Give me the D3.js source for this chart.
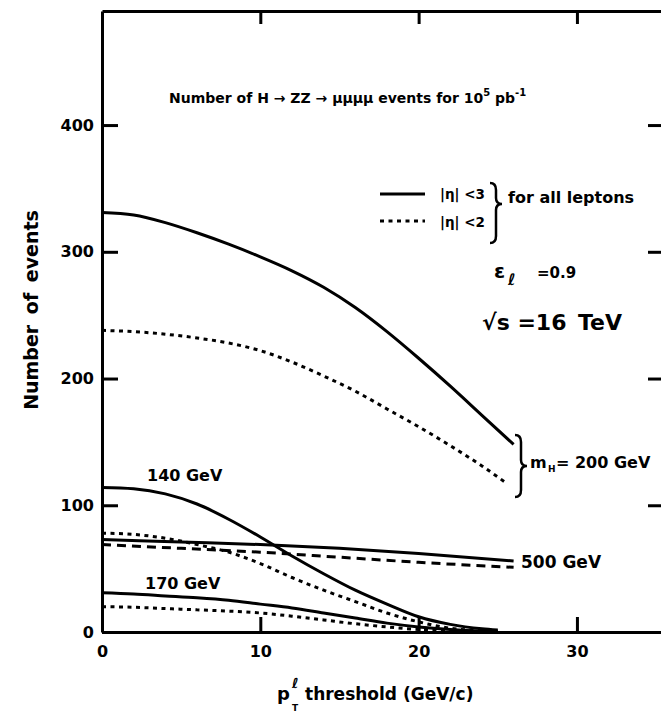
<!DOCTYPE html>
<html>
<head>
<meta charset="utf-8">
<title>H -> ZZ -> 4mu events vs pT threshold</title>
<style type="text/css">
	body{ margin:0; background:#fff; }
	svg text{ font-family:"DejaVu Sans", "Liberation Sans", sans-serif; font-weight:bold; fill:#000; }
	.axis path, .axis line{ stroke:#000; stroke-width:3; }
</style>
</head>
<body>
<div id="board"></div>
<script src="https://cdn.jsdelivr.net/npm/d3@7"></script>
<script>
// values (x = pT threshold GeV/c, y = number of events)
var xTicks = [0, 10, 20, 30];
var yTicks = [0, 100, 200, 300, 400];

var x200 = [0, 2, 4, 6, 8, 10, 12, 14, 16, 18, 20, 22, 24, 26];
var h200eta3 = [331, 329, 323, 315, 306, 296, 285, 272, 256, 237, 216, 194, 171, 148];
var x200b = [0, 2, 4, 6, 8, 10, 12, 14, 16, 18, 20, 22, 24, 25.6];
var h200eta2 = [238, 237, 235, 232, 228, 222, 213, 202, 190, 176, 162, 147, 131, 117];

var xLow = [0, 2, 4, 6, 8, 10, 12, 14, 16, 18, 20, 22, 24, 25];
var h140eta3 = [114, 113, 109, 101, 89, 75, 60, 46, 33, 22, 12, 6, 2.5, 1.5];
var h140eta2 = [78, 77, 74, 69, 63, 54, 43, 33, 24, 15, 8, 3, 1, 0.5];
var h170eta3 = [31, 30, 28.5, 27, 25, 22, 19, 15, 11, 7, 4, 2, 0.8, 0.5];
var x170b = [0, 2, 4, 6, 8, 10, 12, 14, 16, 18, 20, 22, 24];
var h170eta2 = [20, 19.5, 18.5, 17.5, 16.5, 15, 12.5, 9.5, 6.5, 4, 2, 1, 0.3];

var x500 = [0, 5, 10, 15, 20, 26];
var h500eta3 = [73, 71, 69, 66, 62, 56];
var h500eta2 = [69, 66, 63, 59, 55, 51];

var W = 661, H = 717;
var svg = d3.select('#board').append('svg')
	.attr('width', W).attr('height', H);

var x = d3.scaleLinear().domain([0, 35.5]).range([102, 664]);
var y = d3.scaleLinear().domain([0, 490]).range([632, 11]);

// frame / axes, ticks point inwards
svg.append('g').attr('class', 'axis')
	.attr('transform', 'translate(0,' + y(0) + ')')
	.call(d3.axisBottom(x).tickValues(xTicks).tickSize(-15).tickSizeOuter(0).tickPadding(14));
svg.append('g').attr('class', 'axis')
	.attr('transform', 'translate(0,' + y(490) + ')')
	.call(d3.axisTop(x).tickValues(xTicks.slice(1)).tickSize(-13).tickSizeOuter(0).tickFormat(''));
svg.append('g').attr('class', 'axis')
	.attr('transform', 'translate(' + x(0) + ',0)')
	.call(d3.axisLeft(y).tickValues(yTicks).tickSize(-16).tickSizeOuter(0).tickPadding(8));
svg.append('g').attr('class', 'axis')
	.attr('transform', 'translate(' + x(35.5) + ',0)')
	.call(d3.axisRight(y).tickValues(yTicks.slice(1)).tickSize(-16).tickSizeOuter(0).tickFormat(''));
svg.selectAll('.axis .tick text')
	.style('font-size', '16px')
	.style('font-family', '"DejaVu Sans", sans-serif')
	.style('font-weight', 'bold');

// curves
var line = d3.line()
	.x(function(d){ return x(d[0]); })
	.y(function(d){ return y(d[1]); })
	.curve(d3.curveMonotoneX);

function zip(xs, ys){ return xs.map(function(v, i){ return [v, ys[i]]; }); }

var series = [
	{ pts: zip(x200, h200eta3), dash: null },
	{ pts: zip(x200b, h200eta2), dash: '4,4.5' },
	{ pts: zip(xLow, h140eta3), dash: null },
	{ pts: zip(xLow, h140eta2), dash: '4,4.5' },
	{ pts: zip(x500, h500eta3), dash: null },
	{ pts: zip(x500, h500eta2), dash: '9,6' },
	{ pts: zip(xLow, h170eta3), dash: null },
	{ pts: zip(x170b, h170eta2), dash: '4,4.5' }
];

svg.append('g').selectAll('path')
	.data(series)
	.enter().append('path')
	.attr('d', function(d){ return line(d.pts); })
	.attr('fill', 'none')
	.attr('stroke', '#000')
	.attr('stroke-width', 3)
	.attr('stroke-dasharray', function(d){ return d.dash; });

// curly brace
function brace(x0, y0, y1, ym, w){
	var xm = x0 + w / 2;
	return 'M' + x0 + ',' + y0 + ' Q' + xm + ',' + y0 + ' ' + xm + ',' + (y0 + 7) +
		' L' + xm + ',' + (ym - 6) + ' Q' + xm + ',' + ym + ' ' + (x0 + w) + ',' + ym +
		' Q' + xm + ',' + ym + ' ' + xm + ',' + (ym + 6) +
		' L' + xm + ',' + (y1 - 7) + ' Q' + xm + ',' + y1 + ' ' + x0 + ',' + y1;
}

function label(px, py, size, str){
	return svg.append('text').attr('x', px).attr('y', py).style('font-size', size + 'px').text(str);
}

// title
var t = svg.append('text').attr('x', 169).attr('y', 103).style('font-size', '14px');
t.append('tspan').text('Number of H \u2192 ZZ \u2192 \u03bc\u03bc\u03bc\u03bc events for  10');
t.append('tspan').attr('dy', -7).style('font-size', '10px').text('5');
t.append('tspan').attr('dy', 7).text('  pb');
t.append('tspan').attr('dy', -7).style('font-size', '10px').text('-1');

// legend
svg.append('line').attr('x1', 380).attr('x2', 425).attr('y1', 194).attr('y2', 194)
	.attr('stroke', '#000').attr('stroke-width', 3);
svg.append('line').attr('x1', 380).attr('x2', 425).attr('y1', 221).attr('y2', 221)
	.attr('stroke', '#000').attr('stroke-width', 3).attr('stroke-dasharray', '4,4.5');
label(440, 199, 13.5, '|\u03b7| <3');
label(440, 227, 13.5, '|\u03b7| <2');
svg.append('path').attr('d', brace(490, 183, 243, 204, 12))
	.attr('fill', 'none').attr('stroke', '#000').attr('stroke-width', 2.5);
label(508, 203, 16, 'for all leptons');

// epsilon and sqrt(s)
label(494, 278, 20, '\u03b5');
label(508, 285, 16, '\u2113');
label(537, 278, 15, '=0.9');
label(482, 330, 22, '\u221as =16');
label(578, 330, 22, 'TeV');

// curve labels
svg.append('path').attr('d', brace(515, 435, 497, 466, 12))
	.attr('fill', 'none').attr('stroke', '#000').attr('stroke-width', 2.5);
label(530, 468, 16, 'm');
label(548, 472, 9, 'H');
label(556, 468, 16, '= 200 GeV');

label(147, 481, 16, '140 GeV');
label(145, 589, 16, '170 GeV');
label(521, 568, 17, '500 GeV');

// axis titles
svg.append('text')
	.attr('transform', 'translate(38,310) rotate(-90)')
	.attr('text-anchor', 'middle')
	.style('font-size', '19px').style('word-spacing', '4px')
	.text('Number of events');

label(277, 700, 18, 'p');
label(292, 688, 14, '\u2113');
label(292, 711, 9, 'T');
label(305, 700, 17, 'threshold  (GeV/c)');
</script>
</body>
</html>
